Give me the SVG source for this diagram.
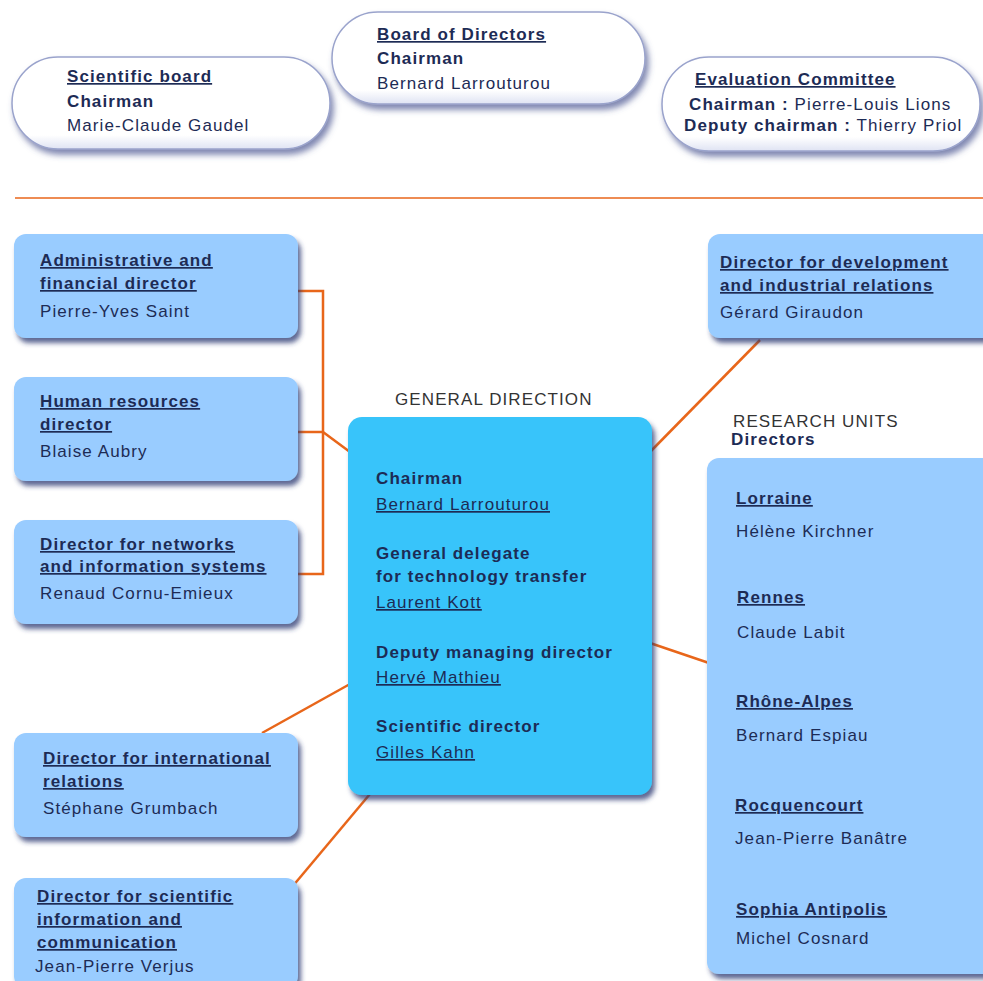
<svg xmlns="http://www.w3.org/2000/svg" width="983" height="981" viewBox="0 0 983 981">
<defs>
<filter id="sh" x="-10%" y="-10%" width="125%" height="130%">
<feDropShadow dx="3" dy="5" stdDeviation="2.5" flood-color="#2a3570" flood-opacity="0.75"/>
</filter>
<filter id="psh" x="-10%" y="-20%" width="125%" height="150%">
<feDropShadow dx="3" dy="5" stdDeviation="3" flood-color="#4a5590" flood-opacity="0.7"/>
</filter>
<linearGradient id="pill" x1="0" y1="0" x2="0" y2="1">
<stop offset="0" stop-color="#ffffff"/>
<stop offset="0.85" stop-color="#ffffff"/>
<stop offset="1" stop-color="#dfe3f3"/>
</linearGradient>
</defs>
<style>
text{font-family:"Liberation Sans",Arial,sans-serif;font-size:17px;letter-spacing:1.1px;fill:#1d2b55}
.t{font-weight:bold;text-decoration:underline}
.b{font-weight:bold}
.u{text-decoration:underline}
.g{fill:#333333}
.box{fill:#99ccff}
.pill{fill:url(#pill);stroke:#9aa3cc;stroke-width:1.5}
.c{stroke:#e8661a;stroke-width:2.5;fill:none}
</style>
<rect width="983" height="981" fill="#ffffff"/>
<line x1="15" y1="198" x2="983" y2="198" stroke="#e8661a" stroke-width="1.5"/>

<g id="connectors">
<polyline class="c" points="298,291 323,291 323,574 298,574"/>
<line class="c" x1="298" y1="432" x2="323" y2="432"/>
<line class="c" x1="323" y1="432" x2="350" y2="452"/>
<line class="c" x1="350" y1="684" x2="262" y2="733"/>
<line class="c" x1="375" y1="788" x2="292" y2="887"/>
<line class="c" x1="760" y1="340" x2="650" y2="452"/>
<line class="c" x1="650" y1="643" x2="709" y2="663"/>
</g>

<g id="scientific-board">
<rect class="pill" x="12" y="57" width="318" height="92" rx="46" filter="url(#psh)"/>
<text class="t" x="67" y="82">Scientific board</text>
<text class="b" x="67" y="107">Chairman</text>
<text x="67" y="131">Marie-Claude Gaudel</text>
</g>

<g id="board-of-directors">
<rect class="pill" x="332" y="12" width="313" height="92" rx="46" filter="url(#psh)"/>
<text class="t" x="377" y="40">Board of Directors</text>
<text class="b" x="377" y="64">Chairman</text>
<text x="377" y="89">Bernard Larrouturou</text>
</g>

<g id="evaluation-committee">
<rect class="pill" x="662" y="57" width="318" height="94" rx="47" filter="url(#psh)"/>
<text class="t" x="695" y="85">Evaluation Committee</text>
<text x="689" y="110"><tspan class="b">Chairman :</tspan>  Pierre-Louis Lions</text>
<text x="684" y="131"><tspan class="b">Deputy chairman :</tspan> Thierry Priol</text>
</g>

<g id="admin-financial">
<rect class="box" x="14" y="234" width="284" height="104" rx="12" filter="url(#sh)"/>
<text class="t" x="40" y="266">Administrative and </text>
<text class="t" x="40" y="289">financial director</text>
<text x="40" y="317">Pierre-Yves Saint</text>
</g>

<g id="human-resources">
<rect class="box" x="14" y="377" width="284" height="104" rx="12" filter="url(#sh)"/>
<text class="t" x="40" y="407">Human resources</text>
<text class="t" x="40" y="430">director</text>
<text x="40" y="457">Blaise Aubry</text>
</g>

<g id="networks">
<rect class="box" x="14" y="520" width="284" height="104" rx="12" filter="url(#sh)"/>
<text class="t" x="40" y="550">Director for networks</text>
<text class="t" x="40" y="572">and information systems</text>
<text x="40" y="599">Renaud Cornu-Emieux</text>
</g>

<g id="international">
<rect class="box" x="14" y="733" width="284" height="104" rx="12" filter="url(#sh)"/>
<text class="t" x="43" y="764">Director for international </text>
<text class="t" x="43" y="787">relations</text>
<text x="43" y="814">Stéphane Grumbach</text>
</g>

<g id="scientific-information">
<rect class="box" x="14" y="878" width="284" height="110" rx="12" filter="url(#sh)"/>
<text class="t" x="37" y="902">Director for scientific</text>
<text class="t" x="37" y="925">information and</text>
<text class="t" x="37" y="948">communication</text>
<text x="35" y="972">Jean-Pierre Verjus</text>
</g>

<g id="general-direction">
<text class="g" x="395" y="405">GENERAL DIRECTION</text>
<rect x="348" y="417" width="304" height="378" rx="14" fill="#38c4fa" filter="url(#sh)"/>
<text class="b" x="376" y="484">Chairman</text>
<text class="u" x="376" y="510">Bernard Larrouturou</text>
<text class="b" x="376" y="559">General delegate</text>
<text class="b" x="376" y="582">for technology transfer</text>
<text class="u" x="376" y="608">Laurent Kott</text>
<text class="b" x="376" y="658">Deputy managing director</text>
<text class="u" x="376" y="683">Hervé Mathieu</text>
<text class="b" x="376" y="732">Scientific director</text>
<text class="u" x="376" y="758">Gilles Kahn</text>
</g>

<g id="development">
<rect class="box" x="708" y="234" width="290" height="104" rx="12" filter="url(#sh)"/>
<text class="t" x="720" y="268">Director for development</text>
<text class="t" x="720" y="291">and industrial relations</text>
<text x="720" y="318">Gérard Giraudon</text>
</g>

<g id="research-units">
<text class="g" x="733" y="427">RESEARCH UNITS</text>
<text class="b" x="731" y="445">Directors</text>
<rect class="box" x="707" y="458" width="290" height="516" rx="12" filter="url(#sh)"/>
<text class="t" x="736" y="504">Lorraine</text>
<text x="736" y="537">Hélène Kirchner</text>
<text class="t" x="737" y="603">Rennes</text>
<text x="737" y="638">Claude Labit</text>
<text class="t" x="736" y="707">Rhône-Alpes</text>
<text x="736" y="741">Bernard Espiau</text>
<text class="t" x="735" y="811">Rocquencourt</text>
<text x="735" y="844">Jean-Pierre Banâtre</text>
<text class="t" x="736" y="915">Sophia Antipolis</text>
<text x="736" y="944">Michel Cosnard</text>
</g>
</svg>
